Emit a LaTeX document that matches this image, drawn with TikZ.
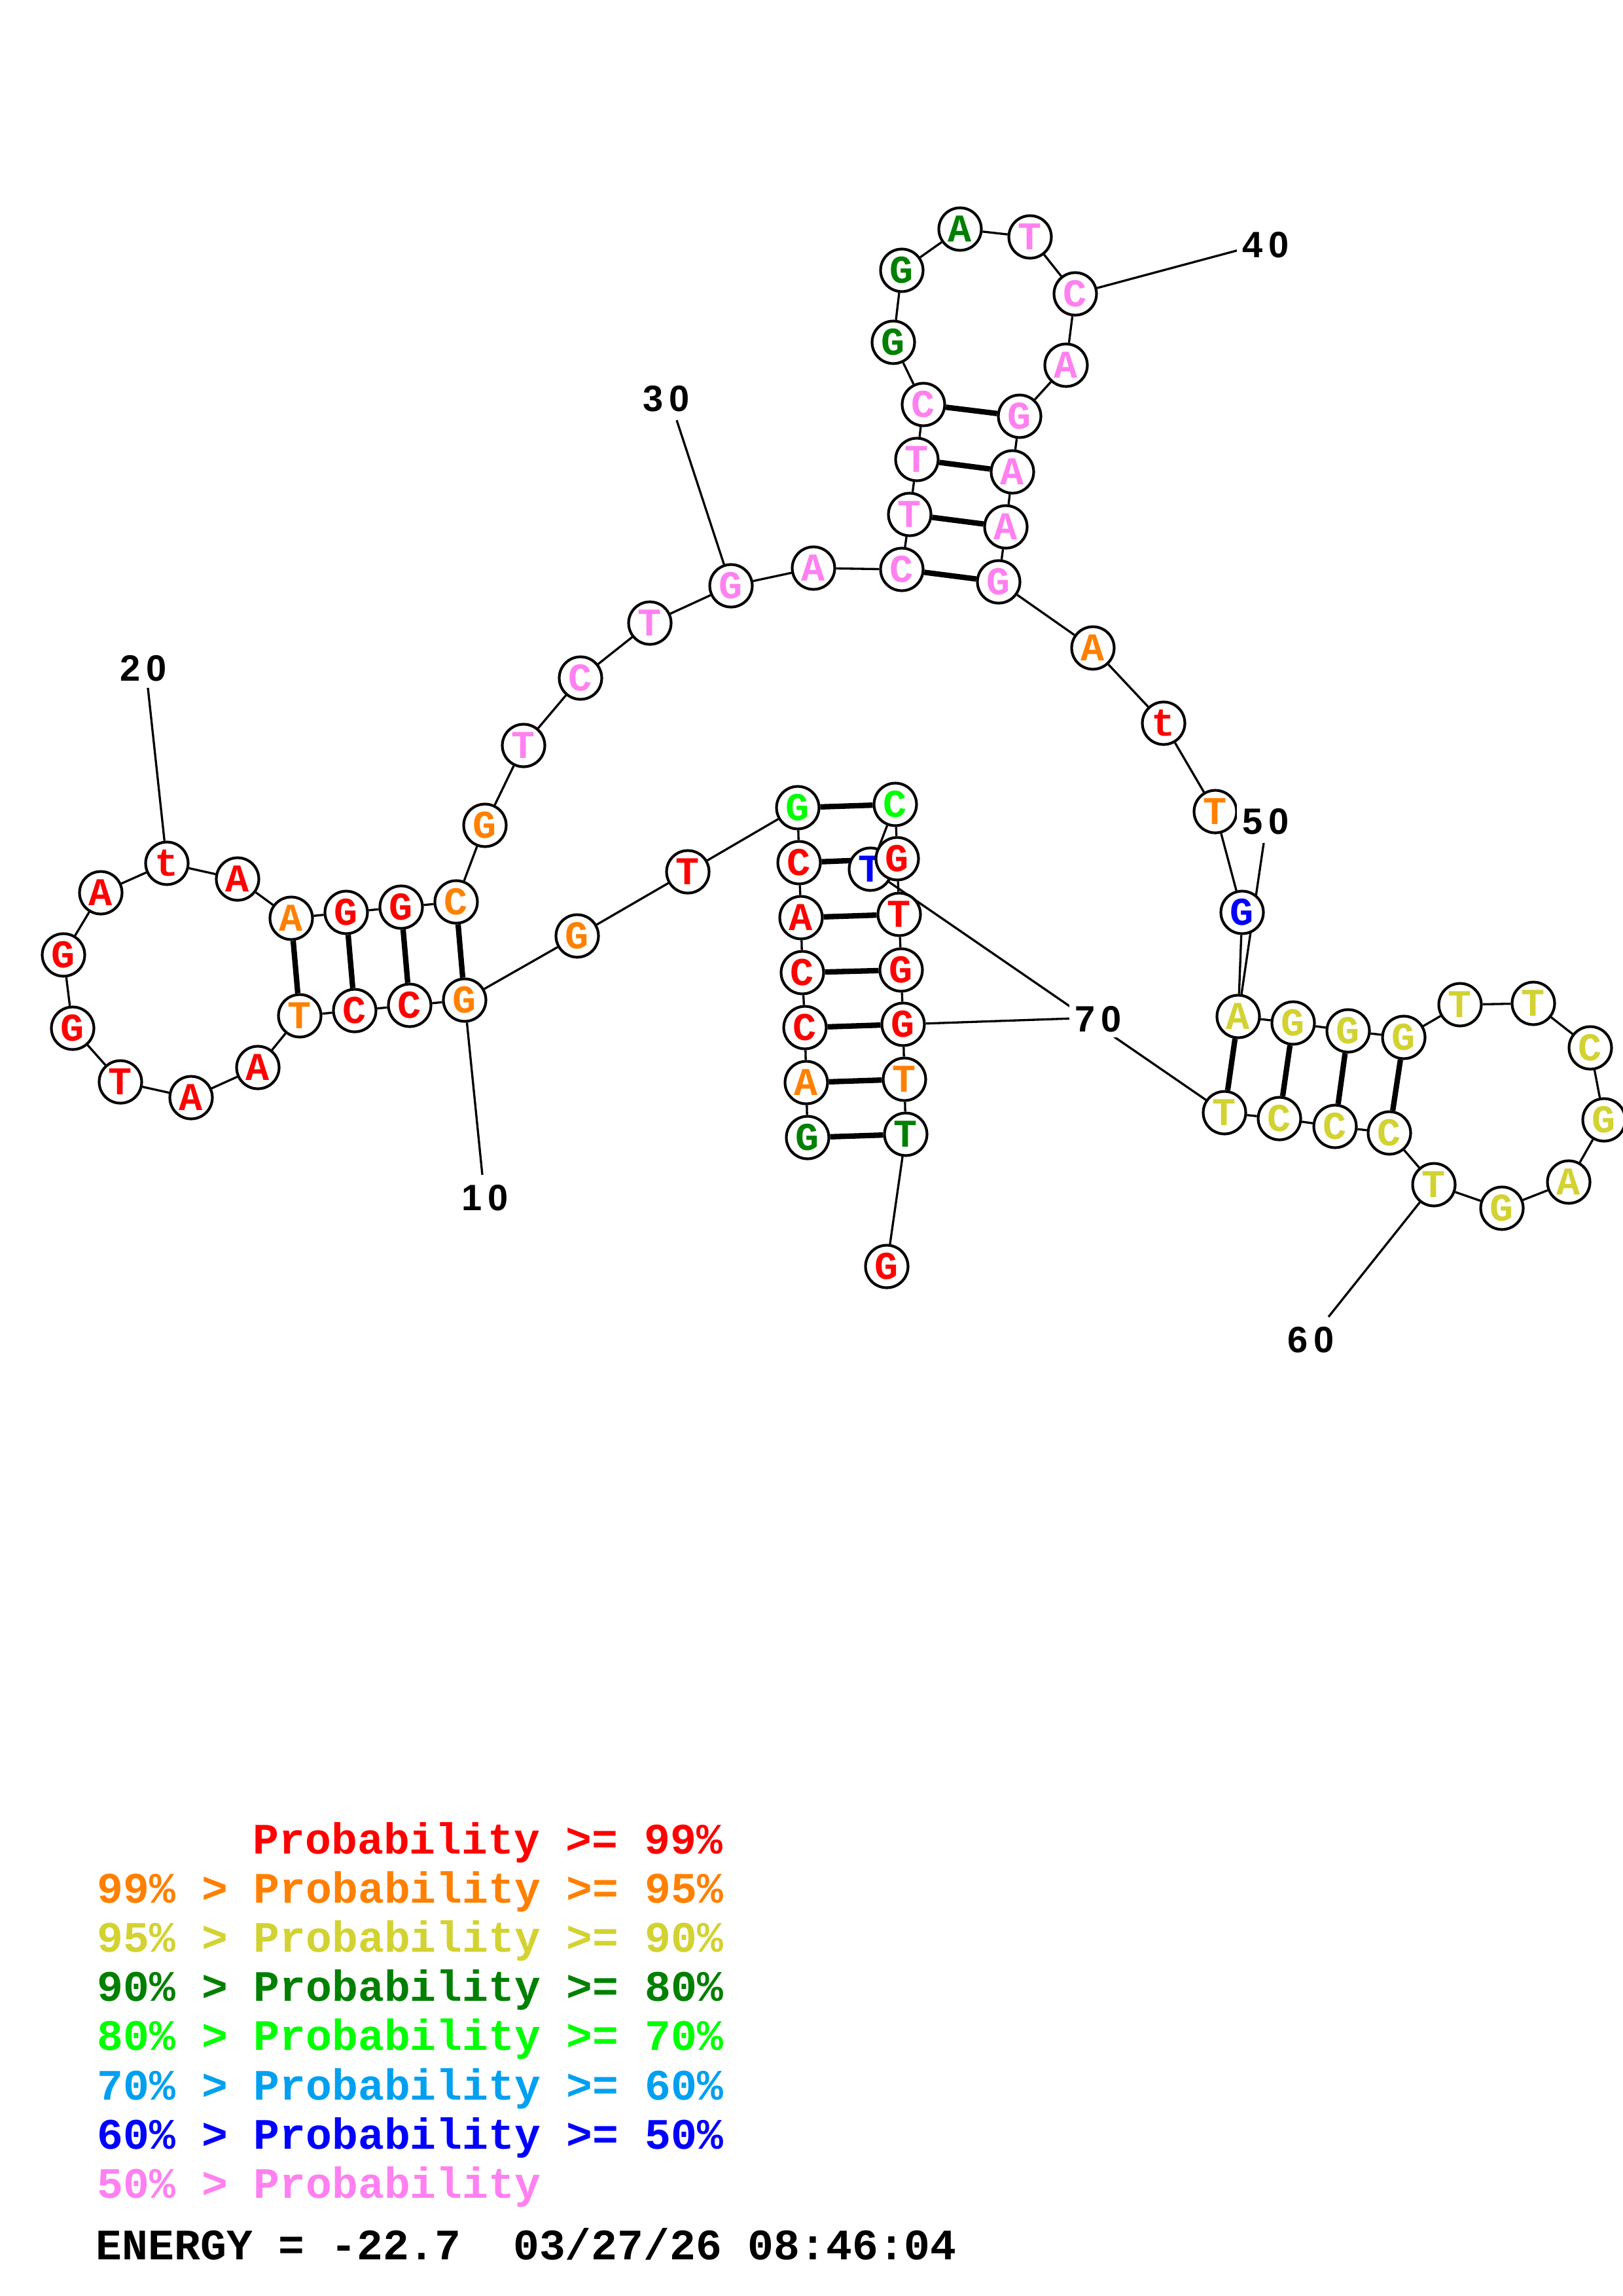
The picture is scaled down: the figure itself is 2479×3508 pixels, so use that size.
\documentclass[tikz,border=0pt]{standalone}
\usepackage{fontspec}
\setmonofont{Liberation Mono}
\newfontfamily\numfont[LetterSpace=15]{Liberation Sans}
\usetikzlibrary{backgrounds}

\definecolor{pr99}{RGB}{255,0,0}
\definecolor{pr95}{RGB}{255,128,0}
\definecolor{pr90}{RGB}{210,210,50}
\definecolor{pr80}{RGB}{0,128,0}
\definecolor{pr70}{RGB}{0,255,0}
\definecolor{pr60}{RGB}{0,160,240}
\definecolor{pr50}{RGB}{0,0,255}
\definecolor{prlow}{RGB}{255,128,240}

\begin{document}
\begin{tikzpicture}[x=0.008471cm,y=-0.008471cm]
        \tikzstyle{every node} = [inner sep=0pt]
        \tikzstyle{nt} = [circle, draw, line width=1pt, fill=white, minimum size=0.55cm, font=\fontsize{14.5}{15}\ttfamily\bfseries]
        \tikzstyle{numlab} = [fill=white, inner sep=2pt, font=\fontsize{13.5}{14}\numfont\bfseries]
        \tikzstyle{keyline} = [anchor=base west, font=\fontsize{16}{17}\ttfamily\bfseries]
        \useasboundingbox (0,0) rectangle (2479,3508);

        % bases, 5' to 3'
        \foreach \n/\x/\y/\b/\c in {
            1/1234/1738/G/pr80, 2/1232/1654/A/pr95, 3/1230/1570/C/pr99,
            4/1226/1486/C/pr99, 5/1224/1402/A/pr99, 6/1221/1318/C/pr99,
            7/1219/1234/G/pr70, 8/1051/1332/T/pr99, 9/882/1430/G/pr95,
            10/710/1528/G/pr95, 11/626/1536/C/pr99, 12/542/1544/C/pr99,
            13/458/1552/T/pr95, 14/394/1631/A/pr99, 15/292/1677/A/pr99,
            16/184/1653/T/pr99, 17/111/1571/G/pr99, 18/97/1459/G/pr99,
            19/154/1364/A/pr99, 20/255/1319/t/pr99, 21/363/1343/A/pr99,
            22/445/1403/A/pr95, 23/529/1394/G/pr99, 24/613/1386/G/pr99,
            25/697/1378/C/pr95, 26/741/1261/G/pr95, 27/800/1139/T/prlow,
            28/887/1036/C/prlow, 29/993/952/T/prlow, 30/1117/895/G/prlow,
            31/1243/868/A/prlow, 32/1378/870/C/prlow, 33/1390/786/T/prlow,
            34/1401/702/T/prlow, 35/1411/618/C/prlow, 36/1365/523/G/pr80,
            37/1378/413/G/pr80, 38/1467/350/A/pr80, 39/1574/362/T/prlow,
            40/1643/449/C/prlow, 41/1629/558/A/prlow, 42/1558/636/G/prlow,
            43/1547/721/A/prlow, 44/1537/805/A/prlow, 45/1526/889/G/prlow,
            46/1670/990/A/pr95, 47/1778/1105/t/pr99, 48/1857/1240/T/pr95,
            49/1898/1394/G/pr50, 50/1892/1553/A/pr90, 51/1976/1563/G/pr90,
            52/2060/1575/G/pr90, 53/2145/1585/G/pr90, 54/2231/1535/T/pr90,
            55/2343/1533/T/pr90, 56/2430/1601/C/pr90, 57/2451/1711/G/pr90,
            58/2397/1806/A/pr90, 59/2295/1846/G/pr90, 60/2191/1810/T/pr90,
            61/2123/1731/C/pr90, 62/2040/1721/C/pr90, 63/1955/1709/C/pr90,
            64/1871/1700/T/pr90, 65/1330/1328/T/pr50, 66/1368/1229/C/pr70,
            67/1371/1312/G/pr99, 68/1374/1397/T/pr99, 69/1377/1482/G/pr99,
            70/1380/1565/G/pr99, 71/1382/1649/T/pr95, 72/1384/1733/T/pr80,
            73/1355/1935/G/pr99}
            \node[nt, text=\c] (\n) at (\x,\y) {\b};

        % position numbers
        \node[numlab] (p10) at (741,1830) {10};
        \node[numlab] (p20) at (219,1021) {20};
        \node[numlab] (p30) at (1018,609) {30};
        \node[numlab] (p40) at (1934,374) {40};
        \node[numlab] (p50) at (1934,1255) {50};
        \node[numlab] (p60) at (2003,2047) {60};
        \node[numlab] (p70) at (1678,1557) {70};
        \coordinate (l10) at (737,1795);
        \coordinate (l20) at (226,1051);
        \coordinate (l30) at (1034,642);
        \coordinate (l40) at (1893,382);
        \coordinate (l50) at (1931,1288);
        \coordinate (l60) at (2030,2012);
        \coordinate (l70) at (1640,1556);

        \begin{pgfonlayer}{background}
            \foreach \from [evaluate=\from as \to using int(\from+1)] in {1,...,72}
                \draw[line width=0.8pt] (\from) -- (\to);
            \foreach \from/\to in {1/72, 2/71, 3/70, 4/69, 5/68, 6/67, 7/66,
                                   10/25, 11/24, 12/23, 13/22,
                                   32/45, 33/44, 34/43, 35/42,
                                   50/64, 51/63, 52/62, 53/61}
                \draw[line width=2pt] (\from) -- (\to);
            \foreach \n in {10,20,30,40,50,60,70}
                \draw[line width=0.8pt] (\n) -- (l\n);
        \end{pgfonlayer}

        % key
        \node[keyline, text=pr99] (k1) at (386,2832) {Probability >= 99\%};
        \node[keyline, text=pr95] (k2) at (148,2907) {99\% > Probability >= 95\%};
        \node[keyline, text=pr90] (k3) at (148,2982) {95\% > Probability >= 90\%};
        \node[keyline, text=pr80] (k4) at (148,3057) {90\% > Probability >= 80\%};
        \node[keyline, text=pr70] (k5) at (148,3132) {80\% > Probability >= 70\%};
        \node[keyline, text=pr60] (k6) at (148,3208) {70\% > Probability >= 60\%};
        \node[keyline, text=pr50] (k7) at (148,3283) {60\% > Probability >= 50\%};
        \node[keyline, text=prlow] (k8) at (148,3358) {50\% > Probability};
        \node[keyline] (energy) at (146,3452) {ENERGY = -22.7\ \ 03/27/26 08:46:04};
      \end{tikzpicture}
\end{document}
